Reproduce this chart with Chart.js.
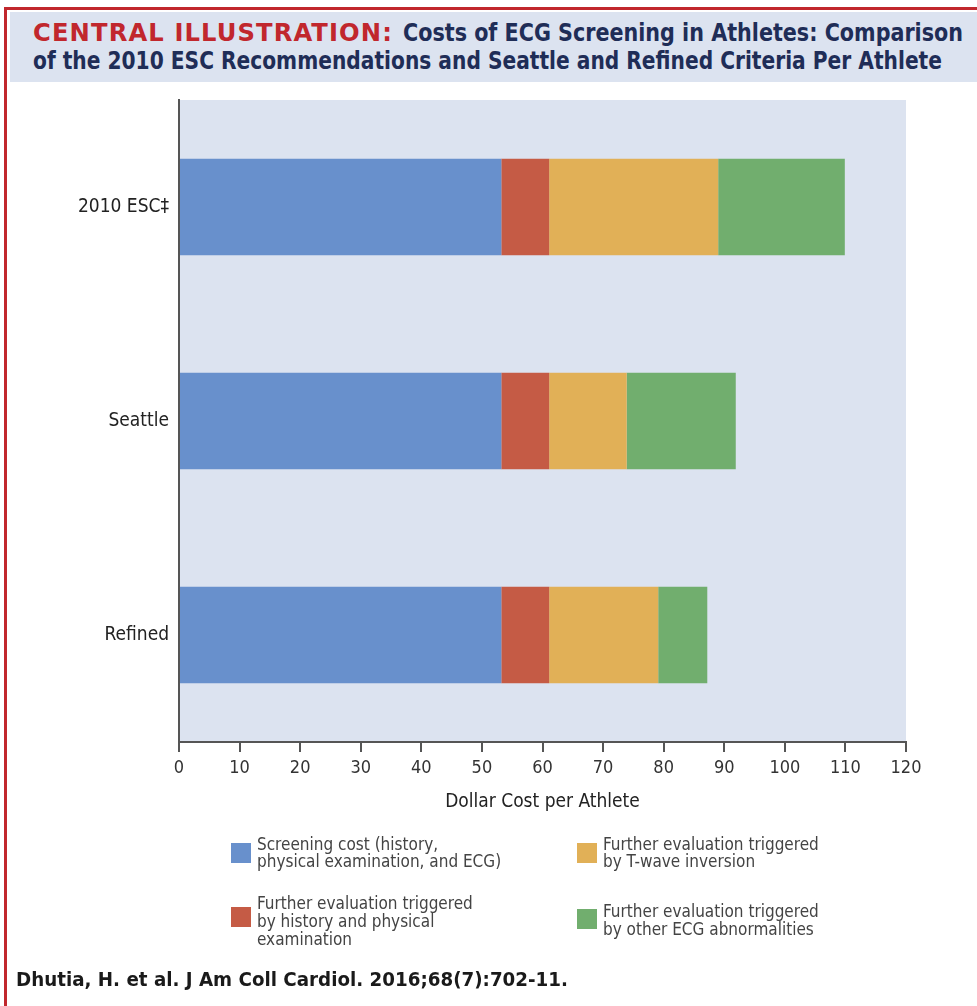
<!DOCTYPE html>
<html>
<head>
<meta charset="utf-8">
<script src="https://cdn.jsdelivr.net/npm/chart.js@4.4.1/dist/chart.umd.min.js"></script>
<style>
  html, body { margin: 0; padding: 0; background: #fff; }
  body { width: 977px; height: 1006px; position: relative; overflow: hidden;
         font-family: "Liberation Sans Narrow", "DejaVu Sans Condensed", Roboto, sans-serif; }
  #frame-top { position: absolute; left: 4px; top: 7px; width: 973px; height: 3px; background: #c1272d; }
  #frame-left { position: absolute; left: 4px; top: 7px; width: 3px; height: 999px; background: #c1272d; }
  #title-bg { position: absolute; left: 10px; top: 12px; width: 967px; height: 70px; background: #dce3f0; }
  .tline { position: absolute; font-weight: bold; font-size: 24px; line-height: 28px; color: #1f2d57;
           white-space: nowrap; transform-origin: 0 50%; }
  .tline.lead { color: #c1272d; letter-spacing: 1px; }
  #chart { position: absolute; left: 0; top: 0; }
  .leg { position: absolute; font-size: 17px; line-height: 17px; color: #444; }
  .leg .box { position: absolute; left: 0; width: 20px; height: 20px; }
  .leg .txt { position: absolute; left: 26px; top: 0; white-space: nowrap; }
  #footer { position: absolute; left: 16px; top: 967px; font-weight: bold; font-size: 20px; color: #1a1a1a;
            white-space: nowrap; transform-origin: 0 50%; }
</style>
</head>
<body>
<div id="frame-top"></div>
<div id="frame-left"></div>
<div id="title-bg"></div>
<div class="tline lead" data-w="360" style="left:33px; top:19px;">CENTRAL ILLUSTRATION:</div>
<div class="tline" data-w="560" style="left:403px; top:19px;">Costs of ECG Screening in Athletes: Comparison</div>
<div class="tline" data-w="909" style="left:33px; top:47px;">of the 2010 ESC Recommendations and Seattle and Refined Criteria Per Athlete</div>
<canvas id="chart" width="977" height="1006"></canvas>
<div id="legend"></div>
<div id="footer" data-w="552">Dhutia, H. et al. J Am Coll Cardiol. 2016;68(7):702-11.</div>
<script>
// Screening protocols (rows)
const criteria = ['2010 ESC\u2021', 'Seattle', 'Refined'];

// Cost components per athlete, in dollars
const screeningCost = [53.2, 53.2, 53.2];
const historyExamCost = [7.9, 7.9, 7.9];
const tWaveCost = [27.9, 12.8, 18.0];
const otherEcgCost = [20.9, 18.0, 8.1];

const xTicks = [0, 10, 20, 30, 40, 50, 60, 70, 80, 90, 100, 110, 120];

const seriesNames = [
  ['Screening cost (history,', 'physical examination, and ECG)'],
  ['Further evaluation triggered', 'by history and physical', 'examination'],
  ['Further evaluation triggered', 'by T-wave inversion'],
  ['Further evaluation triggered', 'by other ECG abnormalities']
];
const seriesColors = ['#6890cc', '#c55b45', '#e1b057', '#71ae6e'];

const labelFont = '"Liberation Sans Narrow", "DejaVu Sans Condensed", Roboto, sans-serif';

// Fit the heading lines and citation to their set widths
document.querySelectorAll('[data-w]').forEach(el => {
  const target = parseFloat(el.dataset.w);
  const w = el.getBoundingClientRect().width;
  if (w > 0) el.style.transform = 'scaleX(' + (target / w) + ')';
});

const plotBackground = {
  id: 'plotBackground',
  beforeDraw(chart) {
    const { ctx, chartArea: a } = chart;
    ctx.save();
    ctx.fillStyle = '#dce3f0';
    ctx.fillRect(a.left, a.top, a.right - a.left, a.bottom - a.top);
    ctx.restore();
  }
};

const values = [screeningCost, historyExamCost, tWaveCost, otherEcgCost];

new Chart(document.getElementById('chart'), {
  type: 'bar',
  data: {
    labels: criteria,
    datasets: values.map((v, i) => ({
      label: seriesNames[i].join(' '),
      data: v,
      backgroundColor: seriesColors[i],
      borderWidth: 0,
      barPercentage: 0.45,
      categoryPercentage: 1
    }))
  },
  options: {
    indexAxis: 'y',
    responsive: false,
    animation: false,
    layout: { padding: { left: 0, right: 71, top: 100, bottom: 189 } },
    plugins: { legend: { display: false }, tooltip: { enabled: false } },
    scales: {
      x: {
        stacked: true,
        min: 0, max: 120,
        afterBuildTicks(scale) { scale.ticks = xTicks.map(v => ({ value: v })); },
        afterFit(scale) { scale.height = 75; },
        grid: { drawOnChartArea: false, drawTicks: true, tickLength: 10, color: '#555', lineWidth: 2 },
        border: { display: true, color: '#555', width: 2 },
        ticks: { color: '#333', font: { family: labelFont, size: 18 }, padding: 6, maxRotation: 0 },
        title: { display: true, text: 'Dollar Cost per Athlete', color: '#222',
                 font: { family: labelFont, size: 19 }, padding: { top: 3 } }
      },
      y: {
        stacked: true,
        afterFit(scale) { scale.width = 179; },
        grid: { display: false, drawTicks: false },
        border: { display: true, color: '#555', width: 2 },
        ticks: { color: '#222', font: { family: labelFont, size: 19 }, padding: 10 }
      }
    }
  },
  plugins: [plotBackground]
});

// Two-column legend beneath the axis
const legendPos = [
  { idx: 0, left: 231, top: 836, lh: 17 },
  { idx: 2, left: 577, top: 836, lh: 17 },
  { idx: 1, left: 231, top: 894, lh: 18 },
  { idx: 3, left: 577, top: 902, lh: 18 }
];
const legend = document.getElementById('legend');
legendPos.forEach(p => {
  const el = document.createElement('div');
  el.className = 'leg';
  el.style.left = p.left + 'px';
  el.style.top = p.top + 'px';
  el.style.lineHeight = p.lh + 'px';
  const lines = seriesNames[p.idx];
  const box = document.createElement('div');
  box.className = 'box';
  box.style.background = seriesColors[p.idx];
  box.style.top = (lines.length === 3 ? 13 : 7) + 'px';
  const txt = document.createElement('div');
  txt.className = 'txt';
  txt.innerHTML = lines.join('<br>');
  el.appendChild(box);
  el.appendChild(txt);
  legend.appendChild(el);
});
</script>
</body>
</html>
